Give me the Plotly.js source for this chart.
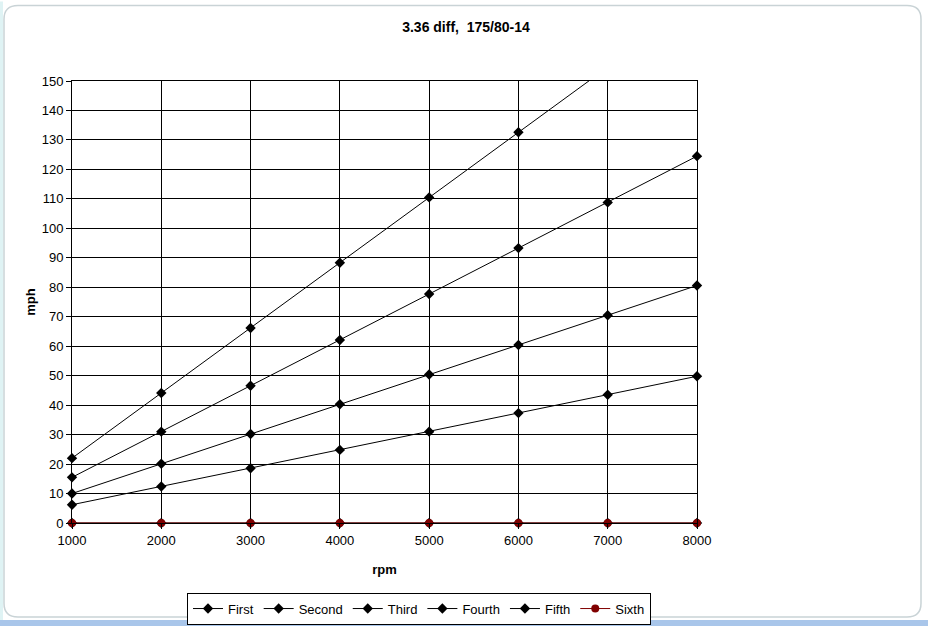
<!DOCTYPE html>
<html>
<head>
<meta charset="utf-8">
<script src="https://cdn.plot.ly/plotly-3.0.1.min.js"></script>
<style>html,body{margin:0;padding:0;background:#fff;overflow:hidden;}#chart{width:928px;height:637px;}</style>
</head>
<body>
<div id="chart"></div>
<script>
const rpm = [1000, 2000, 3000, 4000, 5000, 6000, 7000, 8000];
const first  = [6.2, 12.4, 18.6, 24.8, 31.0, 37.3, 43.5, 49.8];
const second = [10.0, 20.1, 30.2, 40.3, 50.4, 60.4, 70.5, 80.6];
const third  = [15.5, 31.0, 46.6, 62.1, 77.7, 93.3, 108.8, 124.5];
const fourth = [22.0, 44.1, 66.2, 88.3, 110.5, 132.6, 154.7, 176.8];
const fifth  = [0, 0, 0, 0, 0, 0, 0, 0];
const sixth  = [0, 0, 0, 0, 0, 0, 0, 0];
const seriesNames = ["First", "Second", "Third", "Fourth", "Fifth", "Sixth"];
const yMax = 150;

const L = 72, R = 697, T = 81, B = 532, W = 928, H = 637;
const pw = R - L, ph = B - T;
const px = v => (v - L) / pw;
const py = v => (B - v) / ph;

function mk(name, y, color, symbol, size) {
  return {
    type: 'scatter', mode: 'lines+markers', name: name, x: rpm, y: y,
    cliponaxis: false,
    line: {color: color, width: 1},
    marker: {symbol: symbol, size: size,
             color: y.map(v => v > yMax ? 'rgba(0,0,0,0)' : color)}
  };
}
const data = [
  mk(seriesNames[0], first, '#000000', 'diamond', 8),
  mk(seriesNames[1], second, '#000000', 'diamond', 8),
  mk(seriesNames[2], third, '#000000', 'diamond', 8),
  mk(seriesNames[3], fourth, '#000000', 'diamond', 8),
  mk(seriesNames[4], fifth, '#000000', 'diamond', 8),
  mk(seriesNames[5], sixth, '#800000', 'circle', 8)
];

// rounded outer frame
const x0 = px(4), x1 = px(921), y0 = py(628), y1 = py(4);
const rx = 14 / pw, ry = 14 / ph;
const framePath = `M ${x0+rx} ${y1} L ${x1-rx} ${y1} Q ${x1} ${y1} ${x1} ${y1-ry} L ${x1} ${y0+ry} Q ${x1} ${y0} ${x1-rx} ${y0} L ${x0+rx} ${y0} Q ${x0} ${y0} ${x0} ${y0+ry} L ${x0} ${y1-ry} Q ${x0} ${y1} ${x0+rx} ${y1} Z`;

const layout = {
  width: W, height: H, autosize: false,
  margin: {l: L, r: W - R, t: T, b: H - B, pad: 0},
  paper_bgcolor: '#ffffff', plot_bgcolor: '#ffffff',
  font: {family: 'Liberation Sans, Arial, sans-serif', size: 13, color: '#000'},
  showlegend: true,
  title: {text: '<b>3.36 diff,  175/80-14</b>', font: {size: 14, color: '#000'},
          x: px(466), xanchor: 'center', xref: 'paper', y: 1 - 27 / H, yanchor: 'middle'},
  xaxis: {
    range: [1000, 8000], dtick: 1000, tick0: 1000,
    showgrid: true, gridcolor: '#000', gridwidth: 1,
    showline: true, linecolor: '#000', linewidth: 1, mirror: true,
    ticks: 'outside', ticklen: 5, tickcolor: '#000',
    zeroline: false, tickfont: {size: 13},
    title: {text: '<b>rpm</b>', font: {size: 13}, standoff: 18}
  },
  yaxis: {
    range: [0, 150], dtick: 10,
    showgrid: true, gridcolor: '#000', gridwidth: 1,
    showline: true, linecolor: '#000', linewidth: 1, mirror: true,
    ticks: 'outside', ticklen: 5, tickcolor: '#000',
    zeroline: false, tickfont: {size: 13},
    title: {text: '<b>mph</b>', font: {size: 13}, standoff: 3}
  },
  legend: {
    orientation: 'h', x: px(419), xanchor: 'center', y: py(603), yanchor: 'top',
    bordercolor: '#000', borderwidth: 1, bgcolor: '#fff',
    font: {size: 13}, itemwidth: 30, tracegroupgap: 0
  },
  shapes: [
    {type: 'path', xref: 'paper', yref: 'paper', path: framePath,
     line: {color: '#c9d3d6', width: 1.5}, layer: 'below'},
    {type: 'rect', xref: 'paper', yref: 'paper', x0: px(0), x1: px(928), y0: py(637), y1: py(631),
     fillcolor: '#a9c6ea', line: {width: 0}, layer: 'below'},
    {type: 'rect', xref: 'paper', yref: 'paper', x0: px(0), x1: px(3), y0: py(631), y1: py(0),
     fillcolor: '#dff3f4', line: {width: 0}, layer: 'below'}
  ]
};

Plotly.newPlot('chart', data, layout, {displayModeBar: false, staticPlot: true});
</script>
</body>
</html>
